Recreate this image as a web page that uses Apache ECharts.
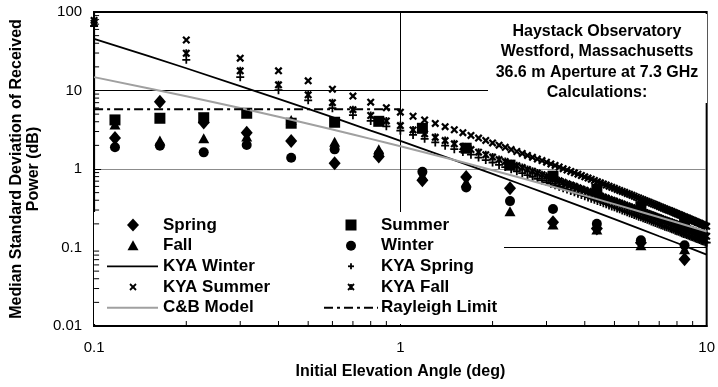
<!DOCTYPE html>
<html>
<head>
<meta charset="utf-8">
<script src="https://cdn.jsdelivr.net/npm/echarts/dist/echarts.min.js"></script>
<style>
  html, body { margin: 0; padding: 0; background: #fff; }
  #chart { width: 718px; height: 387px; }
</style>
</head>
<body>
<div id="chart"></div>
<script>
// Measured seasonal medians (elevation in degrees, standard deviation in dB)
const elevMeasured = [0.117, 0.164, 0.228, 0.315, 0.44, 0.61, 0.85, 1.18, 1.64, 2.28, 3.15, 4.38, 6.1, 8.47];
const spring = [2.48, 7.2, 3.9, 2.9, 2.28, 1.18, 1.44, 0.72, 0.79, 0.57, 0.21, 0.175, 0.115, 0.071];
const summer = [4.22, 4.43, 4.5, 5.13, 3.83, 3.94, 4.05, 3.3, 1.84, 1.12, 0.81, 0.55, 0.33, 0.2];
const fall   = [3.7, 2.3, 2.46, 2.6, 4.2, 2.23, 1.78, 0.82, 0.68, 0.29, 0.197, 0.17, 0.107, 0.095];
const winter = [1.89, 1.98, 1.63, 2.02, 1.39, 1.78, 1.55, 0.92, 0.58, 0.39, 0.31, 0.2, 0.124, 0.107];

// KYA calculations, every 0.1 deg of initial elevation
const elevKYA = [
  0.1, 0.2, 0.3, 0.4, 0.5, 0.6, 0.7, 0.8, 0.9, 1.0,
  1.1, 1.2, 1.3, 1.4, 1.5, 1.6, 1.7, 1.8, 1.9, 2.0,
  2.1, 2.2, 2.3, 2.4, 2.5, 2.6, 2.7, 2.8, 2.9, 3.0,
  3.1, 3.2, 3.3, 3.4, 3.5, 3.6, 3.7, 3.8, 3.9, 4.0,
  4.1, 4.2, 4.3, 4.4, 4.5, 4.6, 4.7, 4.8, 4.9, 5.0,
  5.1, 5.2, 5.3, 5.4, 5.5, 5.6, 5.7, 5.8, 5.9, 6.0,
  6.1, 6.2, 6.3, 6.4, 6.5, 6.6, 6.7, 6.8, 6.9, 7.0,
  7.1, 7.2, 7.3, 7.4, 7.5, 7.6, 7.7, 7.8, 7.9, 8.0,
  8.1, 8.2, 8.3, 8.4, 8.5, 8.6, 8.7, 8.8, 8.9, 9.0,
  9.1, 9.2, 9.3, 9.4, 9.5, 9.6, 9.7, 9.8, 9.9, 10.0
];
const kyaSummer = [
  78, 44, 25.8, 17.8, 13.3, 10.4, 8.5, 7.1, 6.05, 5.3,
  4.70, 4.21, 3.81, 3.46, 3.16, 2.90, 2.68, 2.48, 2.31, 2.15,
  2.01, 1.89, 1.77, 1.67, 1.58, 1.49, 1.41, 1.34, 1.28, 1.22,
  1.16, 1.11, 1.06, 1.01, 0.971, 0.932, 0.895, 0.860, 0.827, 0.796,
  0.767, 0.740, 0.714, 0.690, 0.667, 0.645, 0.624, 0.604, 0.585, 0.567,
  0.550, 0.534, 0.518, 0.504, 0.489, 0.476, 0.463, 0.450, 0.438, 0.427,
  0.416, 0.405, 0.395, 0.385, 0.376, 0.367, 0.358, 0.350, 0.342, 0.334,
  0.326, 0.319, 0.312, 0.305, 0.299, 0.293, 0.287, 0.281, 0.275, 0.269,
  0.264, 0.259, 0.253, 0.248, 0.244, 0.239, 0.235, 0.230, 0.226, 0.222,
  0.218, 0.214, 0.210, 0.206, 0.203, 0.199, 0.196, 0.193, 0.189, 0.186
];
const kyaFall = [
  72, 29.8, 17.8, 11.8, 8.8, 7.0, 5.7, 4.8, 4.1, 3.57,
  3.15, 2.81, 2.53, 2.30, 2.09, 1.92, 1.77, 1.64, 1.52, 1.42,
  1.32, 1.243, 1.168, 1.102, 1.043, 0.986, 0.936, 0.888, 0.847, 0.807,
  0.771, 0.737, 0.706, 0.677, 0.650, 0.624, 0.601, 0.578, 0.557, 0.537,
  0.518, 0.501, 0.484, 0.469, 0.454, 0.439, 0.426, 0.413, 0.401, 0.390,
  0.378, 0.368, 0.357, 0.348, 0.339, 0.330, 0.322, 0.313, 0.306, 0.298,
  0.291, 0.284, 0.278, 0.271, 0.265, 0.259, 0.253, 0.248, 0.243, 0.238,
  0.232, 0.228, 0.223, 0.219, 0.215, 0.211, 0.207, 0.203, 0.199, 0.195,
  0.192, 0.188, 0.184, 0.181, 0.178, 0.175, 0.172, 0.169, 0.166, 0.164,
  0.161, 0.158, 0.155, 0.153, 0.151, 0.148, 0.146, 0.144, 0.141, 0.139
];
const kyaSpring = [
  66, 24.6, 14.8, 10.1, 7.5, 5.95, 4.85, 4.1, 3.5, 3.08,
  2.72, 2.42, 2.18, 1.98, 1.79, 1.65, 1.52, 1.40, 1.30, 1.21,
  1.125, 1.058, 0.993, 0.936, 0.884, 0.835, 0.792, 0.751, 0.716, 0.681,
  0.651, 0.621, 0.594, 0.570, 0.547, 0.524, 0.505, 0.485, 0.467, 0.450,
  0.434, 0.419, 0.405, 0.392, 0.380, 0.367, 0.356, 0.344, 0.334, 0.325,
  0.315, 0.307, 0.297, 0.290, 0.282, 0.274, 0.268, 0.260, 0.254, 0.247,
  0.242, 0.236, 0.230, 0.225, 0.220, 0.215, 0.209, 0.205, 0.201, 0.197,
  0.192, 0.189, 0.184, 0.181, 0.178, 0.174, 0.171, 0.168, 0.164, 0.161,
  0.159, 0.155, 0.152, 0.149, 0.147, 0.144, 0.142, 0.139, 0.137, 0.135,
  0.133, 0.130, 0.128, 0.126, 0.125, 0.122, 0.120, 0.119, 0.116, 0.115
];

// KYA winter curve and C&B model curve
const elevCurve = [0.1, 0.15, 0.2, 0.3, 0.4, 0.5, 0.6, 0.7, 0.8, 0.9, 1.0, 1.5, 2, 2.5, 3, 4, 5, 6, 7, 8, 9, 10];
const kyaWinter = [45.6, 27.6, 19.2, 11.4, 7.82, 5.82, 4.57, 3.71, 3.09, 2.64, 2.28, 1.30, 0.866, 0.630, 0.485, 0.319, 0.230, 0.175, 0.139, 0.114, 0.0954, 0.0813];
const cbModel   = [14.8, 10.7, 8.45, 5.97, 4.62, 3.77, 3.18, 2.75, 2.42, 2.16, 1.95, 1.30, 0.966, 0.763, 0.627, 0.458, 0.357, 0.290, 0.243, 0.208, 0.181, 0.160];

// Rayleigh limit (horizontal level over low elevations)
const elevRayleigh = [0.1, 1.0];
const rayleigh = [5.77, 5.77];

// Axis tick values
const xMinorTicks = [0.2, 0.3, 0.4, 0.5, 0.6, 0.7, 0.8, 0.9, 2, 3, 4, 5, 6, 7, 8, 9];
const yMinorTicks = [0.02, 0.03, 0.04, 0.05, 0.06, 0.07, 0.08, 0.09,
                     0.2, 0.3, 0.4, 0.5, 0.6, 0.7, 0.8, 0.9,
                     2, 3, 4, 5, 6, 7, 8, 9,
                     20, 30, 40, 50, 60, 70, 80, 90];

const titleLines = ['Haystack Observatory', 'Westford, Massachusetts', '36.6 m Aperture at 7.3 GHz', 'Calculations:'];

const FONT = '"Liberation Sans", Arial, Helvetica, sans-serif';
const pair = (xs, ys) => xs.map((x, i) => [x, ys[i]]);

// marker outlines (filled polygons on a 10x10 box)
const P_CROSS = 'path://M0,2L2,0L10,8L8,10Z M8,0L10,2L2,10L0,8Z';
const P_PLUS  = 'path://M3.9,0L6.1,0L6.1,3.9L10,3.9L10,6.1L6.1,6.1L6.1,10L3.9,10L3.9,6.1L0,6.1L0,3.9L3.9,3.9Z';
const P_STAR  = 'path://M0,2L2,0L10,8L8,10Z M8,0L10,2L2,10L0,8Z M3.9,0L6.1,0L6.1,10L3.9,10Z';

const chart = echarts.init(document.getElementById('chart'), null, { renderer: 'canvas' });

const scatter = (name, data, symbol, size, z) => ({
  name, type: 'scatter', data, symbol, symbolSize: size, z: z || 3,
  itemStyle: { color: '#000', opacity: 1 },
  emphasis: { disabled: true },
  silent: true
});

function tickSeries(data, vertical) {
  return {
    type: 'custom', coordinateSystem: 'cartesian2d', silent: true, z: 4,
    data,
    renderItem: (params, api) => {
      const p = api.coord([api.value(0), api.value(1)]);
      return {
        type: 'line',
        shape: vertical ? { x1: p[0], y1: p[1], x2: p[0], y2: p[1] - 5 }
                        : { x1: p[0], y1: p[1], x2: p[0] + 5, y2: p[1] },
        style: { stroke: '#000', lineWidth: 1 }
      };
    }
  };
}

// legend (drawn as graphics inside the plot)
const L1x = 133, L2x = 351, rowY = [225, 245.7, 266.3, 287, 307.7];
function diamondPts(cx, cy, w, h) { return [[cx, cy - h / 2], [cx + w / 2, cy], [cx, cy + h / 2], [cx - w / 2, cy]]; }
function bar(x1, y1, x2, y2, t) {
  const dx = x2 - x1, dy = y2 - y1, len = Math.hypot(dx, dy);
  const nx = -dy / len * t / 2, ny = dx / len * t / 2;
  return [[x1 + nx, y1 + ny], [x2 + nx, y2 + ny], [x2 - nx, y2 - ny], [x1 - nx, y1 - ny]];
}
function crossEls(cx, cy, s, t, withBar) {
  const h = s / 2;
  const els = [
    { type: 'polygon', shape: { points: bar(cx - h, cy - h, cx + h, cy + h, t) }, style: { fill: '#000' }, z: 5 },
    { type: 'polygon', shape: { points: bar(cx + h, cy - h, cx - h, cy + h, t) }, style: { fill: '#000' }, z: 5 }
  ];
  if (withBar) els.push({ type: 'rect', shape: { x: cx - t / 2, y: cy - h, width: t, height: s }, style: { fill: '#000' }, z: 5 });
  return els;
}
function plusEls(cx, cy, s, t) {
  return [
    { type: 'rect', shape: { x: cx - t / 2, y: cy - s / 2, width: t, height: s }, style: { fill: '#000' }, z: 5 },
    { type: 'rect', shape: { x: cx - s / 2, y: cy - t / 2, width: s, height: t }, style: { fill: '#000' }, z: 5 }
  ];
}
const legendText = (x, y, text) => ({
  type: 'text', x, y, z: 5,
  style: { text, fill: '#000', font: 'bold 17px ' + FONT, textVerticalAlign: 'middle', textAlign: 'left' }
});

const graphics = [
  // white panels behind the legend and the caption
  { type: 'rect', shape: { x: 94, y: 212, width: 410, height: 112 }, style: { fill: '#fff' }, z: 1 },
  { type: 'rect', shape: { x: 488, y: 14, width: 219, height: 89 }, style: { fill: '#fff' }, z: 1 },
  // column 1
  { type: 'polygon', shape: { points: diamondPts(L1x, rowY[0], 12, 13) }, style: { fill: '#000' }, z: 5 },
  legendText(163, rowY[0], 'Spring'),
  { type: 'polygon', shape: { points: [[L1x, rowY[1] - 5.5], [L1x + 5.5, rowY[1] + 4.5], [L1x - 5.5, rowY[1] + 4.5]] }, style: { fill: '#000' }, z: 5 },
  legendText(163, rowY[1], 'Fall'),
  { type: 'line', shape: { x1: 107, y1: rowY[2], x2: 158, y2: rowY[2] }, style: { stroke: '#000', lineWidth: 1.8 }, z: 5 },
  legendText(163, rowY[2], 'KYA Winter'),
  ...crossEls(L1x, rowY[3], 6, 1.8, false),
  legendText(163, rowY[3], 'KYA Summer'),
  { type: 'line', shape: { x1: 107, y1: rowY[4], x2: 158, y2: rowY[4] }, style: { stroke: '#a0a0a0', lineWidth: 2 }, z: 5 },
  legendText(163, rowY[4], 'C&B Model'),
  // column 2
  { type: 'rect', shape: { x: L2x - 5.5, y: rowY[0] - 5.5, width: 11, height: 11 }, style: { fill: '#000' }, z: 5 },
  legendText(381, rowY[0], 'Summer'),
  { type: 'circle', shape: { cx: L2x, cy: rowY[1], r: 5 }, style: { fill: '#000' }, z: 5 },
  legendText(381, rowY[1], 'Winter'),
  ...plusEls(L2x, rowY[2], 6, 1.8),
  legendText(381, rowY[2], 'KYA Spring'),
  ...crossEls(L2x, rowY[3], 6, 1.8, true),
  legendText(381, rowY[3], 'KYA Fall'),
  { type: 'line', shape: { x1: 324, y1: rowY[4], x2: 378, y2: rowY[4] }, style: { stroke: '#000', lineWidth: 2, lineDash: [9, 4, 3, 4] }, z: 5 },
  legendText(381, rowY[4], 'Rayleigh Limit'),
  // caption
  ...titleLines.map((t, i) => ({
    type: 'text', x: 597, y: 31.7 + i * 20.3, z: 5,
    style: { text: t, fill: '#000', font: 'bold 16px ' + FONT, textAlign: 'center', textVerticalAlign: 'middle' }
  }))
];

const option = {
  animation: false,
  backgroundColor: '#fff',
  textStyle: { fontFamily: FONT },
  grid: { left: 92, right: 8, top: 12, bottom: 61, show: true, borderColor: '#000', borderWidth: 2, backgroundColor: 'transparent' },
  xAxis: {
    type: 'log', logBase: 10, min: 0.1, max: 10,
    name: 'Initial Elevation Angle (deg)', nameLocation: 'middle', nameGap: 38,
    nameTextStyle: { fontWeight: 'bold', fontSize: 16, color: '#000', fontFamily: FONT },
    axisLine: { show: true, lineStyle: { color: '#000', width: 2 } },
    axisTick: { show: true, inside: true, length: 7, lineStyle: { color: '#000', width: 1 } },
    axisLabel: { color: '#000', fontSize: 15, margin: 14, fontFamily: FONT },
    splitLine: { show: true, lineStyle: { color: '#000', width: 1 } },
    minorTick: { show: false }
  },
  yAxis: {
    type: 'log', logBase: 10, min: 0.01, max: 100,
    name: 'Median Standard Deviation of Received\nPower (dB)', nameLocation: 'middle', nameRotate: 90, nameGap: 50,
    nameTextStyle: { fontWeight: 'bold', fontSize: 16, lineHeight: 17, color: '#000', fontFamily: FONT, align: 'center' },
    axisLine: { show: true, lineStyle: { color: '#000', width: 2 } },
    axisTick: { show: true, inside: true, length: 7, lineStyle: { color: '#000', width: 1 } },
    axisLabel: { color: '#000', fontSize: 15, margin: 12, fontFamily: FONT },
    splitLine: { show: true, lineStyle: { color: ['#000', '#000', '#8c8c8c', '#000', '#000'], width: 1 } },
    minorTick: { show: false }
  },
  graphic: { elements: graphics },
  series: [
    scatter('Spring', pair(elevMeasured, spring), 'diamond', [12, 14]),
    scatter('Summer', pair(elevMeasured, summer), 'rect', 11),
    scatter('Fall', pair(elevMeasured, fall), 'triangle', [11, 10]),
    scatter('Winter', pair(elevMeasured, winter), 'circle', 10),
    scatter('KYA Summer', pair(elevKYA, kyaSummer), P_CROSS, 8, 3),
    scatter('KYA Spring', pair(elevKYA, kyaSpring), P_PLUS, 8, 3),
    scatter('KYA Fall', pair(elevKYA, kyaFall), P_STAR, 8, 3),
    {
      name: 'KYA Winter', type: 'line', data: pair(elevCurve, kyaWinter), showSymbol: false, symbol: 'none',
      smooth: false, lineStyle: { color: '#000', width: 1.8 }, z: 4, silent: true
    },
    {
      name: 'C&B Model', type: 'line', data: pair(elevCurve, cbModel), showSymbol: false, symbol: 'none',
      lineStyle: { color: '#a0a0a0', width: 2 }, z: 4, silent: true
    },
    {
      name: 'Rayleigh Limit', type: 'line', data: pair(elevRayleigh, rayleigh), showSymbol: false, symbol: 'none',
      lineStyle: { color: '#000', width: 2, type: [9, 4, 3, 4] }, z: 4, silent: true
    },
    tickSeries(xMinorTicks.map(v => [v, 0.01]), true),
    tickSeries(yMinorTicks.map(v => [0.1, v]), false)
  ]
};

chart.setOption(option);
</script>
</body>
</html>
